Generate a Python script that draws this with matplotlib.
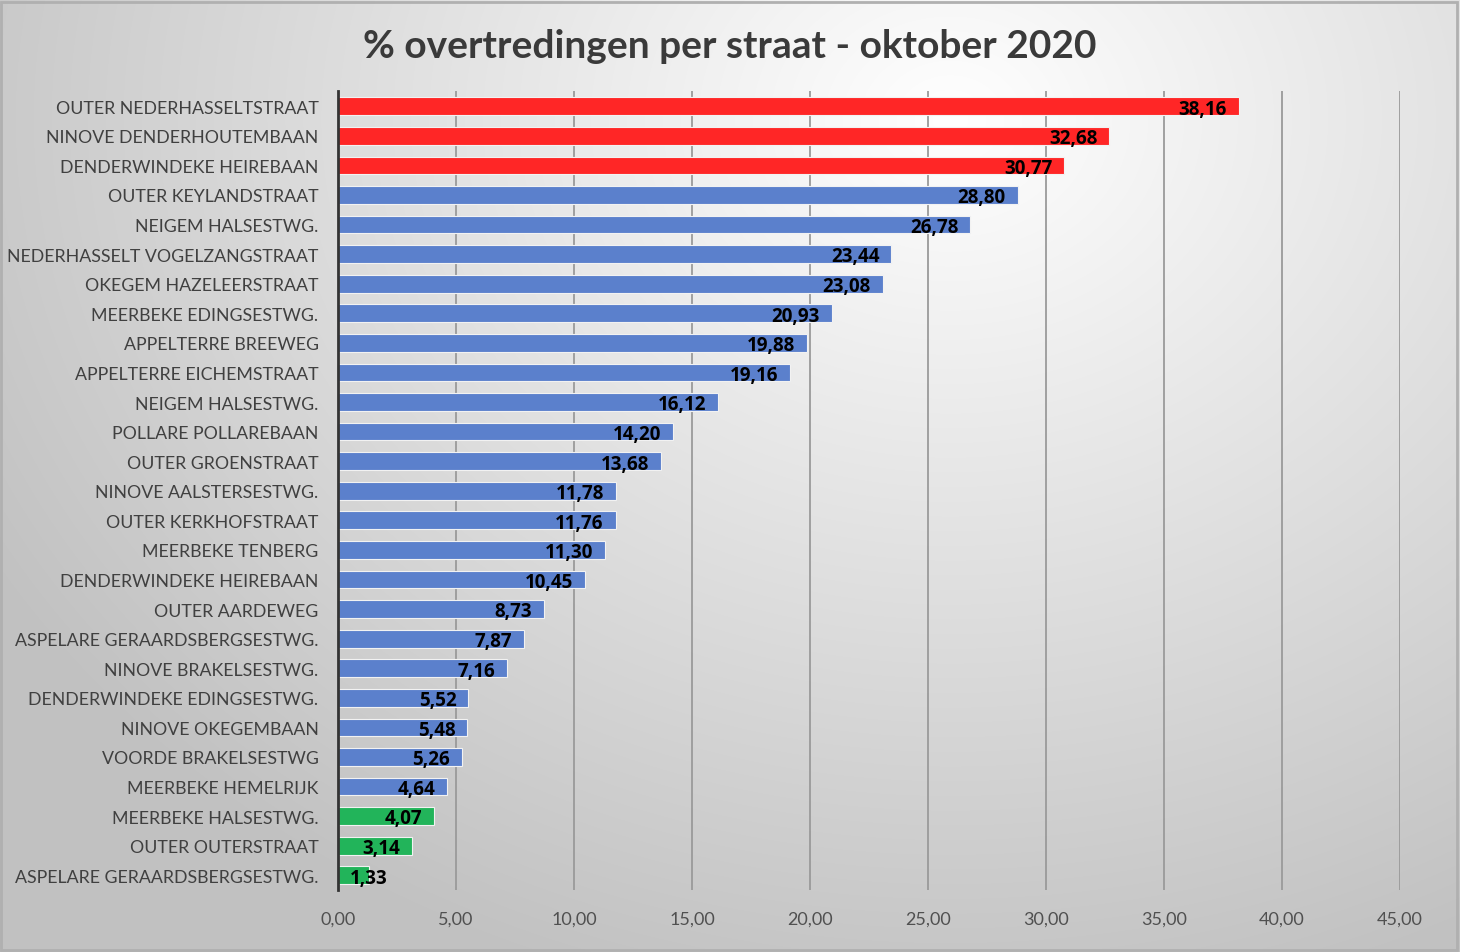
import numpy as np
import matplotlib.pyplot as plt

streets = [
    "OUTER NEDERHASSELTSTRAAT", "NINOVE DENDERHOUTEMBAAN", "DENDERWINDEKE HEIREBAAN",
    "OUTER KEYLANDSTRAAT", "NEIGEM HALSESTWG.", "NEDERHASSELT VOGELZANGSTRAAT",
    "OKEGEM HAZELEERSTRAAT", "MEERBEKE EDINGSESTWG.", "APPELTERRE BREEWEG",
    "APPELTERRE EICHEMSTRAAT", "NEIGEM HALSESTWG.", "POLLARE POLLAREBAAN",
    "OUTER GROENSTRAAT", "NINOVE AALSTERSESTWG.", "OUTER KERKHOFSTRAAT",
    "MEERBEKE TENBERG", "DENDERWINDEKE HEIREBAAN", "OUTER AARDEWEG",
    "ASPELARE GERAARDSBERGSESTWG.", "NINOVE BRAKELSESTWG.", "DENDERWINDEKE EDINGSESTWG.",
    "NINOVE OKEGEMBAAN", "VOORDE BRAKELSESTWG", "MEERBEKE HEMELRIJK",
    "MEERBEKE HALSESTWG.", "OUTER OUTERSTRAAT", "ASPELARE GERAARDSBERGSESTWG.",
]
pct = [38.16, 32.68, 30.77, 28.80, 26.78, 23.44, 23.08, 20.93, 19.88, 19.16,
       16.12, 14.20, 13.68, 11.78, 11.76, 11.30, 10.45, 8.73, 7.87, 7.16,
       5.52, 5.48, 5.26, 4.64, 4.07, 3.14, 1.33]
groups = ["hoog"] * 3 + ["midden"] * 21 + ["laag"] * 3
xticks = [0, 5, 10, 15, 20, 25, 30, 35, 40, 45]

kleur = {"hoog": "#ff2626", "midden": "#5b80cc", "laag": "#22b45a"}
font = ["Lato", "DejaVu Sans"]
boldfont = ["Open Sans", "DejaVu Sans"]

fig = plt.figure(figsize=(14.6, 9.53), dpi=100)

# achtergrond: radiale gradient (wit boven midden -> grijs in de hoeken)
bg = fig.add_axes([0, 0, 1, 1], zorder=-10)
yy, xx = np.mgrid[0:953, 0:1460]
d = np.sqrt(((xx - 950) / 1100.0) ** 2 + ((yy - 120) / 900.0) ** 2)
g = np.clip(1.0 - 0.24 * d, 0.76, 1.0)
bg.imshow(np.dstack([g, g, g]), aspect="auto", extent=[0, 1, 0, 1])
bg.axis("off")
bg.add_patch(plt.Rectangle((0.001, 0.002), 0.997, 0.995, transform=bg.transAxes,
                           fill=False, edgecolor="#b0b0b0", linewidth=2))

ax = fig.add_axes([0.2315, 0.065, 0.7274, 0.838])
ax.patch.set_alpha(0)

y = np.arange(len(pct))
ax.barh(y, pct, height=0.6, color=[kleur[g_] for g_ in groups],
        edgecolor="#f2f2f2", linewidth=0.8, zorder=3)

for yi, v in zip(y, pct):
    txt = f"{v:.2f}".replace(".", ",")
    if v > 3:
        ax.text(v - 0.5, yi + 0.08, txt, ha="right", va="center", fontsize=13.5,
                fontweight="bold", color="black", family=boldfont, zorder=4)
    else:
        ax.text(0.5, yi + 0.08, txt, ha="left", va="center", fontsize=13.5,
                fontweight="bold", color="black", family=boldfont, zorder=4)

ax.set_xlim(0, 45)
ax.set_ylim(len(pct) - 0.5, -0.5)
ax.set_yticks(y)
ax.set_yticklabels(streets, fontsize=12.8, color="#404040", family=font)
ax.set_xticks(xticks)
ax.set_xticklabels([f"{t:.2f}".replace(".", ",") for t in xticks],
                   fontsize=13, color="#505050", family=font)
ax.tick_params(axis="both", length=0)
ax.tick_params(axis="x", pad=15)
ax.tick_params(axis="y", pad=14)

ax.grid(axis="x", color="#9a9a9a", linewidth=1.3, zorder=0)
for s in ["top", "right", "bottom"]:
    ax.spines[s].set_visible(False)
ax.spines["left"].set_color("#333333")
ax.spines["left"].set_linewidth(2)
ax.spines["left"].set_zorder(5)

fig.text(0.5, 0.951, "% overtredingen per straat - oktober 2020", ha="center",
         va="center", fontsize=28, fontweight="bold", color="#3a3a3a", family=font)

fig.savefig("out.png", dpi=100)
